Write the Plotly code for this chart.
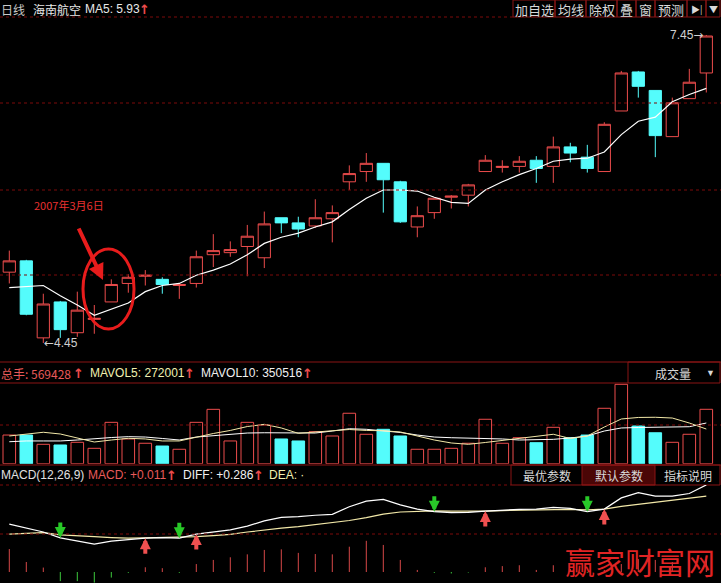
import plotly.graph_objects as go

W, H = 721, 583
FONT = "Liberation Sans, Arial, Noto Sans CJK SC"
CJK = "Noto Sans CJK SC, Liberation Sans"
ARW = "DejaVu Sans"

# ---------------- data ----------------
opens = [5.14, 5.25, 4.50, 4.85, 4.55, 4.68, 4.85, 5.03, 5.10, 5.07, 5.01, 5.03, 5.31, 5.33,
         5.39, 5.28, 5.67, 5.62, 5.59, 5.66, 6.02, 6.12, 6.20, 6.02, 5.58, 5.72, 5.87, 5.89,
         6.12, 6.16, 6.17, 6.23, 6.17, 6.36, 6.26, 6.12, 6.71, 7.09, 6.91, 6.46, 6.83, 7.08]
highs = [5.35, 5.26, 4.93, 4.86, 4.95, 4.82, 5.07, 5.12, 5.16, 5.09, 5.03, 5.35, 5.51, 5.44,
         5.60, 5.73, 5.67, 5.68, 5.85, 5.79, 6.18, 6.30, 6.20, 6.03, 5.78, 5.86, 5.89, 6.00,
         6.28, 6.23, 6.27, 6.27, 6.46, 6.40, 6.38, 6.60, 7.10, 7.10, 6.91, 6.84, 7.12, 7.45]
lows = [5.03, 4.72, 4.45, 4.50, 4.51, 4.54, 4.85, 4.94, 5.01, 4.93, 4.88, 4.99, 5.19, 5.29,
        5.10, 5.18, 5.52, 5.48, 5.57, 5.43, 5.94, 6.02, 5.72, 5.62, 5.48, 5.66, 5.76, 5.78,
        6.12, 6.11, 6.11, 6.01, 6.01, 6.21, 6.11, 6.12, 6.71, 6.84, 6.26, 6.46, 6.83, 6.89]
closes = [5.25, 4.73, 4.83, 4.58, 4.77, 4.69, 5.02, 5.09, 5.11, 5.02, 5.02, 5.29, 5.35, 5.36,
          5.49, 5.61, 5.62, 5.56, 5.67, 5.72, 6.10, 6.20, 6.04, 5.63, 5.69, 5.86, 5.88, 5.99,
          6.23, 6.17, 6.22, 6.15, 6.36, 6.30, 6.15, 6.58, 7.08, 6.95, 6.47, 6.79, 6.99, 7.44]
ma5 = [4.99, 5.00, 5.01, 4.91, 4.82, 4.72, 4.78, 4.84, 4.95, 5.01, 5.03, 5.11, 5.16, 5.22,
       5.31, 5.42, 5.48, 5.52, 5.58, 5.63, 5.75, 5.86, 5.94, 5.94, 5.93, 5.87, 5.82, 5.81,
       5.94, 6.02, 6.09, 6.15, 6.22, 6.24, 6.25, 6.31, 6.48, 6.61, 6.65, 6.80, 6.87, 6.93]

volumes = [300000, 300000, 203000, 196000, 224000, 161000, 433000, 259000, 214000, 185000,
           151000, 433000, 569000, 238000, 433000, 405000, 259000, 238000, 335000, 290000,
           528000, 308000, 360000, 290000, 151000, 151000, 161000, 214000, 465000, 214000,
           272000, 220000, 381000, 272000, 300000, 580000, 831000, 395000, 324000, 224000,
           308000, 569428]
mavol5 = [290000, 311000, 329000, 311000, 269000, 227000, 248000, 266000, 259000, 238000,
          238000, 279000, 316000, 348000, 389000, 412000, 374000, 318000, 332000, 342000,
          358000, 348000, 345000, 332000, 290000, 248000, 217000, 203000, 222000, 243000,
          266000, 287000, 308000, 264000, 290000, 384000, 468000, 484000, 486000, 478000,
          426000, 363000]
mavol10 = [230000, 238000, 238000, 238000, 248000, 264000, 274000, 283000, 279000, 264000,
           248000, 279000, 295000, 311000, 321000, 324000, 321000, 318000, 321000, 342000,
           366000, 360000, 342000, 327000, 300000, 279000, 272000, 269000, 266000, 259000,
           248000, 251000, 255000, 269000, 290000, 342000, 374000, 379000, 381000, 384000,
           387000, 426000]

diff = [0.163, 0.150, 0.136, 0.116, 0.105, 0.095, 0.105, 0.111, 0.115, 0.117, 0.115, 0.129,
        0.137, 0.143, 0.156, 0.174, 0.186, 0.188, 0.193, 0.196, 0.222, 0.241, 0.247, 0.228,
        0.214, 0.205, 0.202, 0.203, 0.207, 0.211, 0.213, 0.214, 0.220, 0.216, 0.205, 0.214,
        0.252, 0.270, 0.258, 0.258, 0.267, 0.296]
dea = [0.129, 0.132, 0.134, 0.126, 0.122, 0.120, 0.117, 0.115, 0.116, 0.117, 0.118, 0.120,
       0.124, 0.128, 0.136, 0.143, 0.149, 0.154, 0.161, 0.168, 0.175, 0.185, 0.197, 0.204,
       0.207, 0.208, 0.207, 0.206, 0.207, 0.209, 0.210, 0.211, 0.213, 0.213, 0.211, 0.214,
       0.223, 0.230, 0.236, 0.243, 0.250, 0.258]
macd = [0.078, 0.034, 0.015, -0.031, -0.031, -0.036, -0.019, -0.003, 0.016, 0.013, -0.003,
        0.027, 0.041, 0.050, 0.060, 0.075, 0.077, 0.065, 0.061, 0.060, 0.086, 0.106, 0.092,
        0.041, 0.007, -0.003, -0.005, -0.002, 0.016, 0.020, 0.023, 0.007, 0.023, 0.010,
        -0.003, 0.007, 0.027, 0.044, 0.041, 0.034, 0.041, 0.054]

dead_cross = [4, 11, 26, 35]
golden_cross = [9, 12, 29, 36]

stock_name = "海南航空"
ma5_text = "MA5: 5.93"
vol_text = ["总手: 569428", "MAVOL5: 272001", "MAVOL10: 350516"]
macd_text = ["MACD(12,26,9)", "MACD: +0.011", "DIFF: +0.286", "DEA: ·"]
top_buttons = ["加自选", "均线", "除权", "叠", "窗", "预测", "▶|", "▼"]
macd_buttons = ["最优参数", "默认参数", "指标说明"]
date_label = "2007年3月6日"
watermark = "赢家财富网"

# ---------------- styles ----------------
RED = "#ec4c4c"
CYAN = "#54fcfc"
GRID = "#7c0a0a"
BORDER = "#8a1414"
TXT = "#d8d8d8"
YEL = "#f2e8a8"

idx = list(range(1, len(opens) + 1))

fig = go.Figure()

fig.add_trace(go.Candlestick(
    x=idx, open=opens, high=highs, low=lows, close=closes,
    increasing=dict(line=dict(color=RED, width=1), fillcolor="#000000"),
    decreasing=dict(line=dict(color=CYAN, width=1), fillcolor=CYAN),
    whiskerwidth=0, xaxis="x", yaxis="y", hoverinfo="skip"))
fig.add_trace(go.Scatter(x=idx, y=ma5, mode="lines", line=dict(color="#ffffff", width=1.2),
                         xaxis="x", yaxis="y", hoverinfo="skip"))

up = [c >= o for o, c in zip(opens, closes)]
fig.add_trace(go.Bar(
    x=idx, y=volumes, width=0.74,
    marker=dict(color=["#000000" if u else CYAN for u in up],
                line=dict(color=[RED if u else CYAN for u in up], width=1)),
    xaxis="x", yaxis="y2", hoverinfo="skip"))
fig.add_trace(go.Scatter(x=idx, y=mavol10, mode="lines", line=dict(color="#ffffff", width=1),
                         xaxis="x", yaxis="y2", hoverinfo="skip"))
fig.add_trace(go.Scatter(x=idx, y=mavol5, mode="lines", line=dict(color=YEL, width=1),
                         xaxis="x", yaxis="y2", hoverinfo="skip"))

# MACD histogram as thin sticks
px_, py_, nx_, ny_ = [], [], [], []
for i, v in zip(idx, macd):
    if v >= 0:
        px_ += [i, i, None]; py_ += [0, v, None]
    else:
        nx_ += [i, i, None]; ny_ += [0, v, None]
fig.add_trace(go.Scatter(x=px_, y=py_, mode="lines", line=dict(color="#d84848", width=1),
                         xaxis="x", yaxis="y3", hoverinfo="skip"))
fig.add_trace(go.Scatter(x=nx_, y=ny_, mode="lines", line=dict(color="#3cc83c", width=1),
                         xaxis="x", yaxis="y3", hoverinfo="skip"))
fig.add_trace(go.Scatter(x=idx, y=dea, mode="lines", line=dict(color=YEL, width=1.2),
                         xaxis="x", yaxis="y3", hoverinfo="skip"))
fig.add_trace(go.Scatter(x=idx, y=diff, mode="lines", line=dict(color="#ffffff", width=1.2),
                         xaxis="x", yaxis="y3", hoverinfo="skip"))


def PX(x):
    return x / W


def PY(y):
    return 1 - y / H


shapes, ann = [], []


def hline(y, x0=0, x1=W, color=GRID, dash="dot", width=1):
    shapes.append(dict(type="line", xref="paper", yref="paper", x0=PX(x0), x1=PX(x1),
                       y0=PY(y), y1=PY(y), line=dict(color=color, width=width, dash=dash)))


def rect(x0, y0, x1, y1, color=BORDER, fill=None):
    shapes.append(dict(type="rect", xref="paper", yref="paper", x0=PX(x0), x1=PX(x1),
                       y0=PY(y1), y1=PY(y0), line=dict(color=color, width=1),
                       fillcolor=fill if fill else "rgba(0,0,0,0)", layer="below"))


def txt(x, y, s, color=TXT, size=12, anchor="left", family=FONT):
    ann.append(dict(x=PX(x), y=PY(y), xref="paper", yref="paper", text=s, showarrow=False,
                    xanchor=anchor, yanchor="middle", borderpad=0,
                    font=dict(color=color, size=size, family=family)))


UPARROW = "<b>↑</b>"

# grid / borders
hline(17, 0, 513)
for gy in [103, 190, 275]:
    hline(gy)
hline(362, color=BORDER, dash="solid")
hline(383, 0, 628, color=BORDER, dash="solid")
rect(628, 362, 720, 383)
hline(425)
hline(465, color=BORDER, dash="solid")
hline(485, 0, 511)
hline(534)
rect(582, 465, 655, 485, fill="#4a0606")
rect(511, 465, 720, 485)

# header
txt(0, 9, "日线", "#c8c8c8", 12, family=CJK)
txt(32, 9, stock_name, "#e8e8e8", 12, family=CJK)
txt(84, 9, ma5_text, "#e8e8e8", 12)
txt(138, 9, UPARROW, RED, 13, family=ARW)
bx = [513, 555, 586, 617, 636, 655, 687, 706, 720]
for i, b in enumerate(top_buttons):
    rect(bx[i], 0, bx[i + 1], 17)
    txt((bx[i] + bx[i + 1]) / 2, 9, b, TXT, 13 if i < 6 else 9, "center", CJK)

# volume header
txt(0, 373, vol_text[0], "#e85a5a", 12, family=CJK)
txt(72, 373, UPARROW, RED, 13, family=ARW)
txt(89, 373, vol_text[1], "#f0f0b0", 12)
txt(183, 373, UPARROW, RED, 13, family=ARW)
txt(200, 373, vol_text[2], "#f0f0f0", 12)
txt(301, 373, UPARROW, RED, 13, family=ARW)
txt(673, 373, "成交量", TXT, 12, "center", CJK)
txt(710, 373, "▼", TXT, 9, "center")

# macd header
txt(0, 475, macd_text[0], "#e0e0e0", 12)
txt(87, 475, macd_text[1], "#e85a5a", 12)
txt(165, 475, UPARROW, RED, 13, family=ARW)
txt(182, 475, macd_text[2], "#f0f0f0", 12)
txt(252, 475, UPARROW, RED, 13, family=ARW)
txt(268, 475, macd_text[3], "#f0f0b0", 12)
mbx = [511, 582, 655, 720]
for i, b in enumerate(macd_buttons):
    txt((mbx[i] + mbx[i + 1]) / 2, 475, b, TXT, 12, "center", CJK)

# max/min labels
imax = highs.index(max(highs)) + 1
imin = lows.index(min(lows)) + 1
ann.append(dict(x=imax, y=max(highs), xref="x", yref="y",
                text=f"{max(highs):.2f}<span style='font-family:DejaVu Sans'>→</span>",
                showarrow=False, xanchor="right", yanchor="middle", xshift=-1,
                font=dict(color="#d0d0d0", size=12, family=FONT)))
ann.append(dict(x=imin, y=min(lows), xref="x", yref="y",
                text=f"<span style='font-family:DejaVu Sans'>←</span>{min(lows):.2f}",
                showarrow=False, xanchor="left", yanchor="middle", xshift=-1,
                font=dict(color="#d0d0d0", size=12, family=FONT)))

# date annotation, arrow and circle
txt(33, 205, date_label, "#e83030", 11, family=CJK)
ann.append(dict(x=PX(103), y=PY(280), xref="paper", yref="paper", text="", showarrow=True,
                ax=-25, ay=-53, arrowcolor="#e81c1c", arrowwidth=4, arrowhead=2,
                arrowsize=0.8))
shapes.append(dict(type="circle", xref="paper", yref="paper", x0=PX(83), x1=PX(134),
                   y0=PY(329), y1=PY(249), line=dict(color="#e81c1c", width=3)))

# MACD cross arrows
for i in dead_cross:
    ann.append(dict(x=i, y=diff[i - 1], xref="x", yref="y3", text="", showarrow=True,
                    ax=0, ay=-17, arrowcolor="#28c828", arrowwidth=4, arrowhead=2,
                    arrowsize=0.55))
for i in golden_cross:
    ann.append(dict(x=i, y=diff[i - 1], xref="x", yref="y3", text="", showarrow=True,
                    ax=0, ay=17, arrowcolor="#f05050", arrowwidth=4, arrowhead=2,
                    arrowsize=0.55))

# watermark
txt(640, 561, watermark, "#e02424", 30, "center", CJK)


def px2price(y):
    return 4.45 + (343 - y) / 102.67


fig.update_layout(
    width=W, height=H, margin=dict(l=0, r=0, t=0, b=0),
    paper_bgcolor="#000000", plot_bgcolor="#000000", showlegend=False,
    xaxis=dict(range=[0.453, 42.865], visible=False, rangeslider=dict(visible=False),
               domain=[0, 1]),
    yaxis=dict(range=[px2price(362), px2price(18)], domain=[PY(362), PY(18)], visible=False),
    yaxis2=dict(range=[0, (463.7 - 383) * 10467], domain=[PY(463.7), PY(383)], visible=False),
    yaxis3=dict(range=[(572 - 583) * 0.0034, (572 - 485) * 0.0034], domain=[0, PY(485)],
                visible=False),
    shapes=shapes, annotations=ann, boxgap=0.28, boxgroupgap=0,
)

fig.write_html("out.html", config={"displayModeBar": False},
               post_script="document.body.style.margin='0px';"
               "document.body.style.background='#000000';")
